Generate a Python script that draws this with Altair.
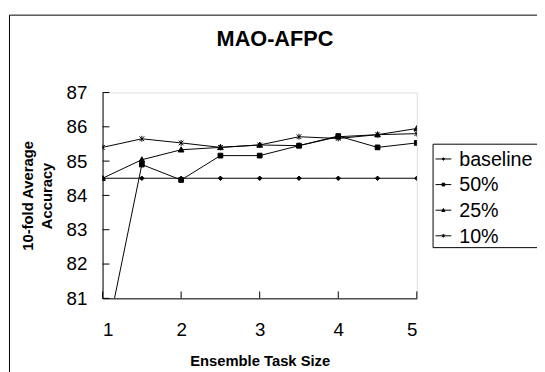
import altair as alt
import pandas as pd

# ---- data ----
x_vals = [1, 1.5, 2, 2.5, 3, 3.5, 4, 4.5, 5]
series_names = ["baseline", "50%", "25%", "10%"]
baseline = [84.5, 84.5, 84.5, 84.5, 84.5, 84.5, 84.5, 84.5, 84.5]
pct50 = [79.3, 84.90, 84.45, 85.16, 85.16, 85.45, 85.73, 85.40, 85.53]
pct25 = [84.5, 85.04, 85.33, 85.40, 85.47, 85.45, 85.71, 85.77, 85.95]
pct10 = [85.40, 85.65, 85.53, 85.40, 85.47, 85.71, 85.66, 85.77, 85.80]
y_ticks = [81, 82, 83, 84, 85, 86, 87]
x_ticks = [1, 2, 3, 4, 5]
chart_title = "MAO-AFPC"

rows = []
for name, vals in zip(series_names, [baseline, pct50, pct25, pct10]):
    for xv, yv in zip(x_vals, vals):
        rows.append({"series": name, "x": xv, "y": yv})
df = pd.DataFrame(rows)

FONT = "Liberation Sans"
W, H = 319, 209

xs = alt.Scale(domain=[1, 5], nice=False, zero=False)
ys = alt.Scale(domain=[81, 87], nice=False, zero=False)

x_axis = alt.Axis(values=x_ticks, ticks=False, grid=False, domainColor="black",
                  format="d", labelOverlap=False,
                  labelFont=FONT, labelFontSize=19, labelColor="black",
                  labelPadding=23, title="Ensemble Task Size",
                  titleFont=FONT, titleFontSize=15, titleFontWeight="bold",
                  titleColor="black", titleBaseline="middle", titleY=63)
y_axis = alt.Axis(values=y_ticks, ticks=False, grid=False, domainColor="black",
                  format="d", labelOverlap=False,
                  labelFont=FONT, labelFontSize=19, labelColor="black",
                  labelPadding=16, labelBaseline="middle",
                  title=["10-fold Average", "Accuracy"],
                  titleFont=FONT, titleFontSize=15, titleFontWeight="bold",
                  titleColor="black", titleAngle=270, titleX=-76, titleY=H / 2,
                  titleBaseline="middle", titleAlign="center", titleLineHeight=19)

marker_paths = [
    "M0,-0.75L0.75,0L0,0.75L-0.75,0Z",
    "M-0.8,-0.8L0.8,-0.8L0.8,0.8L-0.8,0.8Z",
    "M0,-1L0.95,0.75L-0.95,0.75Z",
    "M-0.8,-0.8L0.8,0.8M-0.8,0.8L0.8,-0.8M0,-1L0,1",
]
shape_scale = alt.Scale(domain=series_names, range=marker_paths)

base = alt.Chart(df)

lines = base.mark_line(color="black", strokeWidth=1, clip=True).encode(
    x=alt.X("x:Q", scale=xs, axis=x_axis),
    y=alt.Y("y:Q", scale=ys, axis=y_axis),
    detail="series:N",
)

points = base.mark_point(filled=True, fill="black", stroke="black", strokeWidth=1,
                         opacity=1, size=36, clip=True).encode(
    x=alt.X("x:Q", scale=xs, axis=x_axis),
    y=alt.Y("y:Q", scale=ys, axis=y_axis),
    shape=alt.Shape("series:N", scale=shape_scale, legend=None),
)

ytick_df = pd.DataFrame({"v": y_ticks})
xtick_df = pd.DataFrame({"v": x_ticks})
ytick_marks = alt.Chart(ytick_df).mark_rule(color="black", strokeWidth=1).encode(
    y=alt.Y("v:Q", scale=ys, axis=y_axis), x=alt.value(0), x2=alt.value(7))
xtick_marks = alt.Chart(xtick_df).mark_rule(color="black", strokeWidth=1).encode(
    x=alt.X("v:Q", scale=xs, axis=x_axis), y=alt.value(H), y2=alt.value(H - 7))

border = alt.Chart(alt.Data(values=[{}])).mark_rect(
    fill=None, fillOpacity=0, stroke="black", strokeWidth=1).encode(
    x=alt.value(-94.5), y=alt.value(-78.5), x2=alt.value(700), y2=alt.value(500))

title_mark = alt.Chart(alt.Data(values=[{}])).mark_text(
    text=chart_title, font=FONT, fontSize=22, fontWeight="bold", color="black",
    align="center", baseline="middle").encode(x=alt.value(175), y=alt.value(-54))

# ---- legend (drawn as a small table of marks) ----
one = alt.Data(values=[{}])
legend_layers = [alt.Chart(one).mark_rect(fill="white", stroke="black", strokeWidth=1).encode(
    x=alt.value(335.5), y=alt.value(52.5), x2=alt.value(700), y2=alt.value(157.5))]
for i, name in enumerate(series_names):
    ly = 67.5 + 26 * i
    legend_layers.append(alt.Chart(one).mark_rule(color="black", strokeWidth=1).encode(
        y=alt.value(ly), x=alt.value(338), x2=alt.value(354)))
    legend_layers.append(alt.Chart(one).mark_point(
        shape=marker_paths[i], filled=True, fill="black", stroke="black", strokeWidth=1,
        opacity=1, size=12).encode(x=alt.value(346), y=alt.value(ly)))
    legend_layers.append(alt.Chart(one).mark_text(
        text=name, font=FONT, fontSize=20, color="black", align="left",
        baseline="middle").encode(x=alt.value(362), y=alt.value(ly + 1)))

chart = alt.layer(border, title_mark, ytick_marks, xtick_marks, lines, points,
                  *legend_layers).properties(
    width=W, height=H,
    autosize=alt.AutoSizeParams(type="none"),
    padding={"left": 96, "top": 83, "right": 122, "bottom": 72},
).configure_view(stroke="#a0a0a0", strokeWidth=1).configure(background="white")

chart.save("out.html", embed_options={"renderer": "svg", "actions": False})
